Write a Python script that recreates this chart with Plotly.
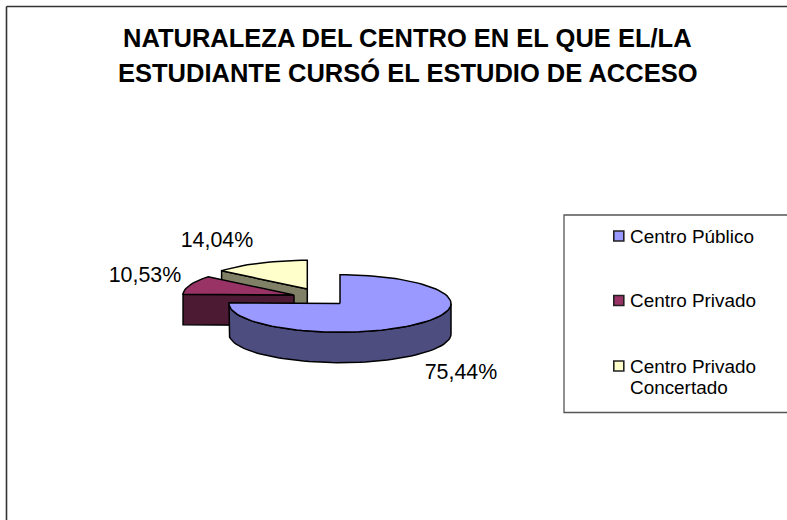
import math
import plotly.graph_objects as go

# ---- data ----
categories = ["Centro Público", "Centro Privado", "Centro Privado<br>Concertado"]
values = [75.44, 10.53, 14.04]
title_lines = ["NATURALEZA DEL CENTRO EN EL QUE EL/LA",
               "ESTUDIANTE CURSÓ EL ESTUDIO DE ACCESO"]

# ---- style / layout ----
top_colors = ["#9999FF", "#993366", "#FFFFCC"]
side_colors = ["#4D4D80", "#4D1A33", "#808066"]
centers = [(340.0, 303.5), (294.0, 295.0), (307.3, 289.0)]   # exploded slice apex
label_pos = [(461, 374), (145, 276.5), (217, 241.5)]
legend_pos = [(618.8, 236), (618.8, 300.5), (618.8, 366)]
RX, RY, DEPTH = 111.0, 28.7, 30.5
FONT = "Liberation Sans, Arial, sans-serif"
OUT = dict(color="black", width=1.5)


def rim(c, a, dy=0.0, step=3.0):
    """Points of the tilted rim from angle a[0] to a[1] (degrees clockwise from 12 o'clock)."""
    n = max(2, int(abs(a[1] - a[0]) / step) + 1)
    xs, ys = [], []
    for i in range(n + 1):
        t = math.radians(a[0] + (a[1] - a[0]) * i / n)
        xs.append(c[0] + RX * math.sin(t))
        ys.append(c[1] - RY * math.cos(t) + dy)
    return xs, ys


def poly(fig, xs, ys, color):
    fig.add_trace(go.Scatter(x=xs + xs[:1], y=ys + ys[:1], mode="lines", fill="toself",
                             fillcolor=color, line=OUT, showlegend=False, hoverinfo="skip"))


total = sum(values)
angles, acc = [], 0.0
for v in values:
    angles.append((acc, acc + v / total * 360))
    acc += v / total * 360

fig = go.Figure()

# draw back slices first: concertado, privado, publico
for i in [2, 1, 0]:
    c, a = centers[i], angles[i]
    if 180 < a[0] < 360:  # radial face at the start edge looks at the viewer
        ex, ey = rim(c, (a[0], a[0]))
        xs = [c[0], ex[0], ex[0], c[0]]
        ys = [c[1], ey[0], ey[0] + DEPTH, c[1] + DEPTH]
        poly(fig, xs, ys, side_colors[i])
    lo, hi = max(a[0], 90), min(a[1], 270)
    if lo < hi:  # outer wall on the front half
        tx, ty = rim(c, (lo, hi))
        bx, by = rim(c, (hi, lo), DEPTH)
        poly(fig, tx + bx, ty + by, side_colors[i])
    tx, ty = rim(c, a)
    poly(fig, [c[0]] + tx, [c[1]] + ty, top_colors[i])

# value labels
for i, v in enumerate(values):
    fig.add_trace(go.Scatter(x=[label_pos[i][0]], y=[label_pos[i][1]], mode="text",
                             text=[f"{v:.2f}%".replace(".", ",")],
                             textfont=dict(family=FONT, size=21.4, color="black"),
                             showlegend=False, hoverinfo="skip"))

# legend
for i, name in enumerate(categories):
    fig.add_trace(go.Scatter(x=[legend_pos[i][0]], y=[legend_pos[i][1]], mode="markers",
                             marker=dict(symbol="square", size=10, color=top_colors[i],
                                         line=dict(color="#222222", width=1.6)),
                             showlegend=False, hoverinfo="skip"))
    for k, part in enumerate(name.split("<br>")):
        fig.add_annotation(x=legend_pos[i][0] + 9, y=legend_pos[i][1] + 0.3 + 21.5 * k, xref="x", yref="y",
                           text=part, showarrow=False, xanchor="left", yanchor="middle", align="left",
                           font=dict(family=FONT, size=18.9, color="black"))

# title
for y, line in zip((38, 72), title_lines):
    fig.add_annotation(x=407.5, y=y, xref="x", yref="y", text=f"<b>{line}</b>", showarrow=False,
                       xanchor="center", yanchor="middle",
                       font=dict(family=FONT, size=25.5, color="black"))

shapes = [
    dict(type="line", x0=6.5, x1=6.5, y0=6.5, y1=520, line=dict(color="#333333", width=1.6)),
    dict(type="line", x0=6.5, x1=787, y0=6.5, y1=6.5, line=dict(color="#333333", width=1.6)),
    dict(type="rect", x0=564, x1=790, y0=215, y1=412.5, line=dict(color="#555555", width=1.3),
         fillcolor="white", layer="below"),
]

fig.update_layout(
    width=787, height=520, autosize=False,
    margin=dict(l=0, r=0, t=0, b=0),
    paper_bgcolor="white", plot_bgcolor="white",
    xaxis=dict(range=[0, 787], visible=False, fixedrange=True),
    yaxis=dict(range=[520, 0], visible=False, fixedrange=True),
    shapes=shapes,
)

fig.write_html("out.html", config={"displayModeBar": False},
               post_script="document.body.style.margin='0';document.body.style.overflow='hidden';")
